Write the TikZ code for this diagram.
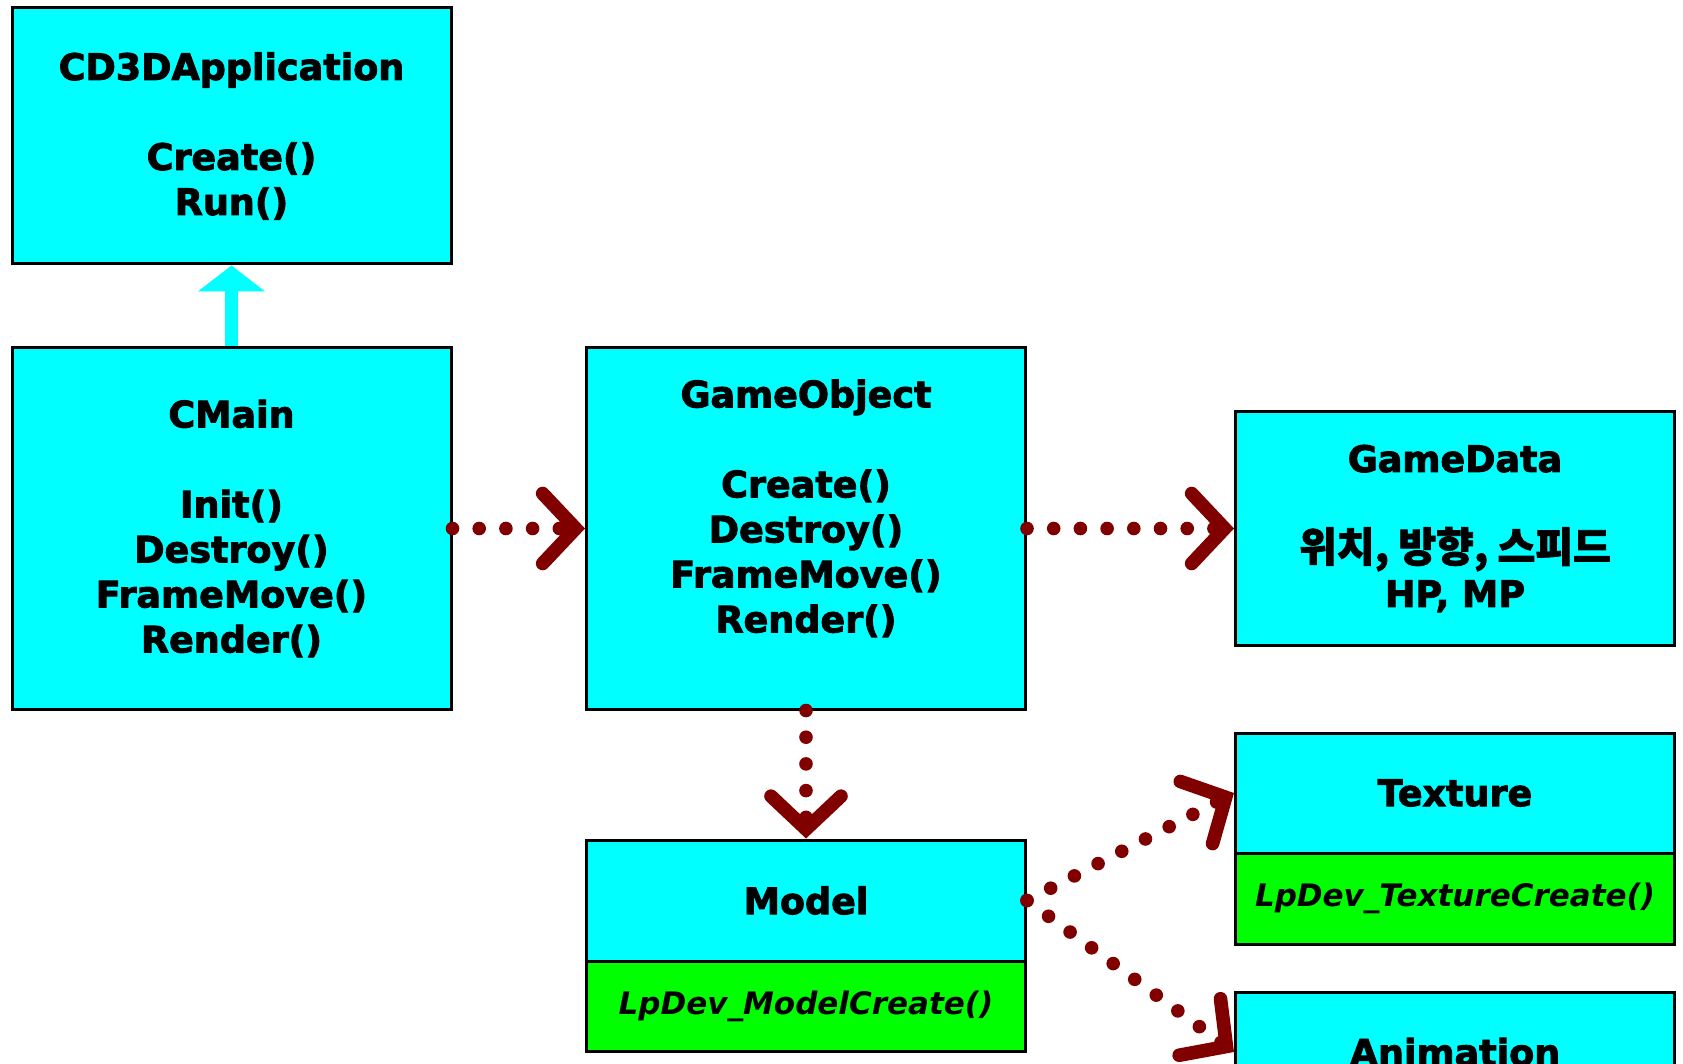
\documentclass[tikz,border=0pt]{standalone}
\usepackage{fontspec}
\setmainfont{DejaVu Sans}[BoldFeatures={FakeBold=2.5}]
\newfontfamily\krfont{Noto Sans CJK KR}[BoldFeatures={FakeBold=2}]
\usetikzlibrary{arrows.meta}
\definecolor{boxcyan}{RGB}{0,255,255}
\definecolor{boxgreen}{RGB}{0,255,0}
\definecolor{linkred}{RGB}{128,0,0}

\begin{document}
\begin{tikzpicture}[x=0.5pt,y=-0.5pt,
  classbox/.style={draw=black, line width=1.5pt, fill=boxcyan, inner sep=0pt, align=center,
    font=\fontsize{18.25pt}{22.5pt}\selectfont\bfseries, minimum width=219.5pt},
  fnbox/.style={draw=black, line width=1.5pt, fill=boxgreen, inner sep=0pt, minimum width=219.5pt,
    font=\fontsize{15.5pt}{18pt}\selectfont\bfseries\itshape},
  uses/.style={draw=linkred, line width=6.8pt, line cap=round, dash pattern=on 0pt off 13.35pt,
    -{Straight Barb[length=16.5pt, width=35pt, line width=6.8pt, line cap=round, line join=miter]}},
  inherits/.style={draw=boxcyan, line width=6.5pt, -{Triangle[length=13pt, width=33pt]}},
]
\useasboundingbox (0,0) rectangle (1683,1064);
\clip (0,0) rectangle (1683,1064);

% class boxes
\node[classbox, minimum height=128pt] (app) at (231.5,136)
  {CD3DApplication\\ \mbox{}\\ Create()\\ Run()};
\node[classbox, minimum height=180.5pt] (cmain) at (231.5,528.5)
  {CMain\\ \mbox{}\\ Init()\\ Destroy()\\ FrameMove()\\ Render()};
\node[classbox, minimum height=180.5pt] (gobj) at (806,528.5)
  {GameObject\\ \mbox{}\\ Create()\\ Destroy()\\ FrameMove()\\ Render()\\ \mbox{}};
\node[classbox, minimum height=116.5pt] (gdata) at (1455,528.5)
  {GameData\\ \mbox{}\\ {\krfont\fontsize{20.5pt}{22.5pt}\selectfont 위치, 방향, 스피드}\\ HP, MP};

% resource boxes with their creation functions
\node[classbox, minimum height=60pt] (tex) at (1455,793) {Texture};
\node[fnbox, minimum height=45.5pt] (texfn) at (1455,898.5) {LpDev\_TextureCreate()};
\node[classbox, minimum height=60.5pt] (model) at (806,900.5) {Model};
\node[fnbox, minimum height=45pt] (modelfn) at (806,1006) {LpDev\_ModelCreate()};
\node[classbox, minimum height=60pt] (anim) at (1455,1052) {Animation};

% connectors
\draw[inherits] (cmain.north) -- (app.south);
\draw[uses] (cmain.east) -- (gobj.west);
\draw[uses] (gobj.east) -- (gdata.west);
\draw[uses] (gobj.south) -- (model.north);
\draw[uses] (model.east) -- (tex.west);
\draw[uses] (model.east) -- (anim.west);
\end{tikzpicture}
\end{document}
